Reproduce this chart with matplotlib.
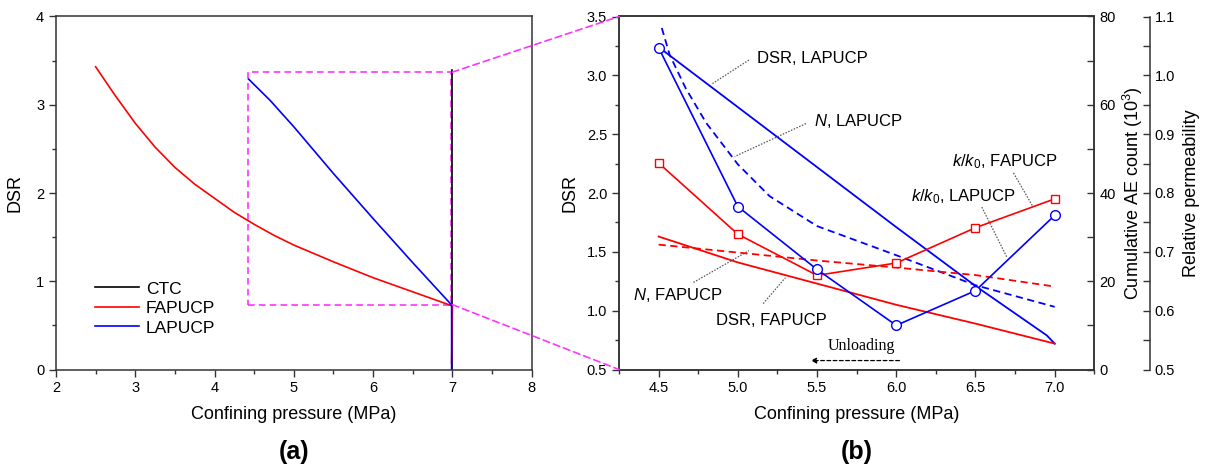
import matplotlib
matplotlib.use("Agg")
import matplotlib.pyplot as plt
from matplotlib.patches import ConnectionPatch, Rectangle
from matplotlib.ticker import MultipleLocator

plt.rcParams["font.family"] = ["Liberation Sans", "DejaVu Sans"]
plt.rcParams["mathtext.fontset"] = "custom"
plt.rcParams["mathtext.rm"] = "Liberation Sans"
plt.rcParams["mathtext.it"] = "Liberation Sans:italic"

# ---- (a) DSR path during unloading ----
ctc_p = [7.0, 7.0]
ctc_dsr = [0.0, 3.39]
fap_p = [2.5, 2.75, 3.0, 3.25, 3.5, 3.75, 4.0, 4.25, 4.5, 4.75, 5.0, 5.5, 6.0, 6.5, 7.0, 6.99]
fap_dsr = [3.43, 3.10, 2.79, 2.52, 2.29, 2.10, 1.94, 1.78, 1.645, 1.52, 1.41, 1.22, 1.04, 0.88, 0.72, 0.07]
lap_p = [4.43, 4.7, 5.0, 5.5, 6.0, 6.5, 6.95, 6.99, 6.99]
lap_dsr = [3.29, 3.05, 2.75, 2.22, 1.71, 1.21, 0.77, 0.73, 0.0]

# ---- (b) zoom on the unloading stage ----
pc = [4.5, 5.0, 5.5, 6.0, 6.5, 7.0]
dsr_lap_p = [4.5, 5.0, 5.5, 6.0, 6.5, 6.95, 7.0]
dsr_lap = [3.24, 2.73, 2.22, 1.71, 1.21, 0.79, 0.72]
dsr_fap = [1.63, 1.41, 1.23, 1.05, 0.89, 0.72]
n_lap_p = [4.52, 4.57, 4.67, 4.8, 5.0, 5.2, 5.5, 6.0, 6.5, 7.0]
n_lap = [77.4, 71.3, 63.8, 55.9, 46.5, 39.3, 32.5, 25.9, 19.1, 14.2]
n_fap = [28.3, 26.5, 24.7, 23.1, 21.4, 18.8]
k_lap = [1.047, 0.777, 0.670, 0.575, 0.634, 0.762]
k_fap = [0.851, 0.730, 0.660, 0.681, 0.741, 0.790]

RED = "#ff0000"
BLUE = "#0000ff"
MAG = "#ff33ff"
LW = 1.2

W, H = 1214, 469
fig = plt.figure(figsize=(W / 100, H / 100), dpi=100)
ax1 = fig.add_axes([56 / W, 1 - 369.5 / H, 475.7 / W, 353 / H])
ax2 = fig.add_axes([619 / W, 1 - 369.5 / H, 475.3 / W, 353 / H])


def style_ticks(ax, which_axis="both", direction="out"):
    ax.tick_params(axis=which_axis, which="major", direction=direction,
                   length=5, width=1, labelsize=10.5, color="#333")
    ax.tick_params(axis=which_axis, which="minor", direction=direction,
                   length=3, width=1, color="#333")


for ax in (ax1, ax2):
    for s in ax.spines.values():
        s.set_linewidth(1.1)
        s.set_color("#333")

# ---------------- panel (a) ----------------
ax1.plot(ctc_p, ctc_dsr, color="black", lw=LW, label="CTC")
ax1.plot(fap_p, fap_dsr, color=RED, lw=LW, label="FAPUCP")
ax1.plot(lap_p, lap_dsr, color=BLUE, lw=LW, label="LAPUCP")
ax1.add_patch(Rectangle((4.42, 0.735), 6.98 - 4.42, 3.37 - 0.735,
                        fill=False, edgecolor=MAG, lw=1.2,
                        linestyle=(0, (4, 2.5)), zorder=1))
ax1.set_xlim(2, 8)
ax1.set_ylim(0, 4)
ax1.xaxis.set_major_locator(MultipleLocator(1))
ax1.xaxis.set_minor_locator(MultipleLocator(0.5))
ax1.yaxis.set_major_locator(MultipleLocator(1))
ax1.yaxis.set_minor_locator(MultipleLocator(0.5))
style_ticks(ax1)
ax1.set_xlabel("Confining pressure (MPa)", fontsize=13, labelpad=8)
ax1.set_ylabel("DSR", fontsize=13, labelpad=9)
leg = ax1.legend(loc="lower left", bbox_to_anchor=(0.05, 0.052), frameon=False,
                 fontsize=12.5, handlelength=2.5, handletextpad=0.4,
                 labelspacing=0.25)

# ---------------- panel (b) ----------------
ax_ae = ax2.twinx()
ax_k = ax2.twinx()
ax_k.spines["right"].set_position(("axes", 1.117))
for a in (ax_ae, ax_k):
    for s in a.spines.values():
        s.set_linewidth(1.1)
        s.set_color("#333")
ax_k.spines["top"].set_visible(False)
ax_k.spines["bottom"].set_visible(False)
ax_k.spines["left"].set_visible(False)

ax2.plot(dsr_lap_p, dsr_lap, color=BLUE, lw=1.3)
ax2.plot(pc, dsr_fap, color=RED, lw=1.3)
ax_ae.plot(n_lap_p, n_lap, color=BLUE, lw=1.3, dashes=(4, 2.5))
ax_ae.plot(pc, n_fap, color=RED, lw=1.3, dashes=(4, 2.5))
ax_k.plot(pc, k_fap, color=RED, lw=1.2, marker="s", ms=6, mfc="white",
          mec=RED, mew=1)
ax_k.plot(pc, k_lap, color=BLUE, lw=1.2, marker="o", ms=7, mfc="white",
          mec=BLUE, mew=1)

ax2.set_xlim(4.25, 7.25)
ax2.set_ylim(0.5, 3.5)
ax_ae.set_ylim(0, 80)
ax_k.set_ylim(0.5, 1.1)
ax2.xaxis.set_major_locator(MultipleLocator(0.5))
ax2.xaxis.set_minor_locator(MultipleLocator(0.25))
ax2.yaxis.set_major_locator(MultipleLocator(0.5))
ax2.yaxis.set_minor_locator(MultipleLocator(0.25))
ax2.xaxis.set_major_formatter("{x:.1f}")
ax2.yaxis.set_major_formatter("{x:.1f}")
ax_ae.yaxis.set_major_locator(MultipleLocator(20))
ax_ae.yaxis.set_minor_locator(MultipleLocator(10))
ax_k.yaxis.set_major_locator(MultipleLocator(0.1))
ax_k.yaxis.set_minor_locator(MultipleLocator(0.05))
ax_k.yaxis.set_major_formatter("{x:.1f}")
style_ticks(ax2)
style_ticks(ax_ae, "y", "in")
style_ticks(ax_k, "y", "in")
ax_ae.tick_params(axis="y", which="minor", length=5)
ax_k.tick_params(axis="y", which="minor", length=5)

ax2.set_xlabel("Confining pressure (MPa)", fontsize=13, labelpad=8)
ax2.set_ylabel("DSR", fontsize=13, labelpad=6)
ax_ae.set_ylabel("Cumulative AE count (10$^3$)", fontsize=13, labelpad=4)
ax_k.set_ylabel("Relative permeability", fontsize=13, labelpad=6)

# curve labels with dotted leaders
notes = [
    ("DSR, LAPUCP", (5.12, 3.14), (5.07, 3.13), (4.84, 2.93)),
    ("$N$, LAPUCP", (5.48, 2.61), (5.43, 2.59), (4.98, 2.31)),
    ("$N$, FAPUCP", (4.34, 1.13), (4.72, 1.24), (5.07, 1.51)),
    ("DSR, FAPUCP", (4.86, 0.915), (5.16, 1.06), (5.30, 1.28)),
    ("$k/k_{\\mathrm{0}}$, FAPUCP", (6.35, 2.27), (6.74, 2.17), (6.86, 1.89)),
    ("$k/k_{\\mathrm{0}}$, LAPUCP", (6.09, 1.97), (6.54, 1.88), (6.70, 1.45)),
]
for text, txy, p0, p1 in notes:
    ax2.text(txy[0], txy[1], text, fontsize=12, ha="left", va="center",
             zorder=6)
    ax2.plot([p0[0], p1[0]], [p0[1], p1[1]], color="#555", lw=0.9,
             linestyle=(0, (1.2, 1.2)), zorder=6)

ax2.text(5.78, 0.70, "Unloading", fontsize=11.5, ha="center", va="center",
         family=["Liberation Serif", "DejaVu Serif"])
ax2.annotate("", xy=(5.46, 0.576), xytext=(6.02, 0.576),
             arrowprops=dict(arrowstyle="-|>", color="black", lw=0.9,
                             linestyle=(0, (3, 2)), mutation_scale=8,
                             shrinkA=0, shrinkB=0))

# magnifier lines from the boxed region to panel (b)
for ya, yb in ((3.37, 1.0), (0.735, 0.0)):
    con = ConnectionPatch(xyA=(7.0, ya), coordsA=ax1.transData,
                          xyB=(0.0, yb), coordsB=ax2.transAxes,
                          color=MAG, lw=1.2, linestyle=(0, (4, 2.5)))
    fig.add_artist(con)

fig.text(294 / W, 1 - 452 / H, "(a)", fontsize=18, fontweight="bold",
         ha="center", va="center")
fig.text(856.5 / W, 1 - 452 / H, "(b)", fontsize=18, fontweight="bold",
         ha="center", va="center")

fig.savefig("out.png", dpi=100)
